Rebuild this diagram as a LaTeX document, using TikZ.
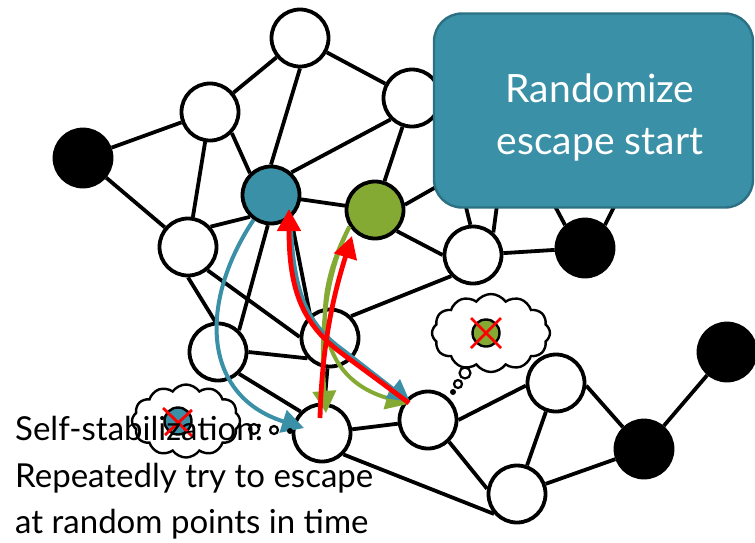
\documentclass[tikz,border=0pt]{standalone}
\usepackage{fontspec}
\setmainfont{Lato}
\usetikzlibrary{arrows.meta,shapes.symbols,calc}
\definecolor{tealc}{RGB}{58,144,166}
\definecolor{tealdark}{RGB}{44,112,131}
\definecolor{greenc}{RGB}{132,170,52}
\definecolor{redc}{RGB}{255,0,0}
\begin{document}
\begin{tikzpicture}[x=1pt,y=-1pt,
  vertex/.style={circle,draw=black,line width=3.8pt,minimum size=57pt,inner sep=0pt,fill=white},
  blackv/.style={vertex,fill=black},
  tealv/.style={vertex,fill=tealc},
  greenv/.style={vertex,fill=greenc},
  edge/.style={line width=3.8pt,draw=black},
  headtip/.style={-{Triangle[length=22pt,width=23pt]}},
  arrteal/.style={headtip,line width=4pt,draw=tealc},
  arrgreen/.style={headtip,line width=4pt,draw=greenc},
  arrred/.style={headtip,line width=4.8pt,draw=redc},
  thought/.style={cloud,draw=black,fill=white,line width=2.4pt,cloud puffs=12,cloud puff arc=110,inner sep=0pt},
  mini/.style={circle,draw=black,line width=2.4pt,minimum size=27pt,inner sep=0pt},
  crossline/.style={draw=redc,line width=2.8pt},
  bubble/.style={circle,draw=black,fill=white,line width=2.2pt,inner sep=0pt},
  dotb/.style={circle,fill=black,inner sep=0pt},
  say/.style={anchor=base west,inner sep=0pt,font=\fontsize{33}{40}\selectfont},
]
\useasboundingbox (0,0) rectangle (755,542);

% vertices of the network
\node[vertex]  (T)     at (300,38)  {};
\node[vertex]  (A)     at (210,112) {};
\node[blackv]  (B1)    at (83,158)  {};
\node[vertex]  (D)     at (412,98)  {};
\node[tealv]   (teal)  at (271,195) {};
\node[greenv]  (green) at (375,210) {};
\node[vertex]  (C)     at (188,247) {};
\node[vertex]  (E)     at (473,255) {};
\node[blackv]  (B2)    at (585,248) {};
\node[vertex]  (F)     at (218,352) {};
\node[vertex]  (G)     at (330,338) {};
\node[vertex]  (H)     at (322,433) {};
\node[vertex]  (I)     at (428,420) {};
\node[vertex]  (J)     at (556,383) {};
\node[vertex]  (K)     at (517,494) {};
\node[blackv]  (B3)    at (644,449) {};
\node[blackv]  (B4)    at (727,352) {};

% loose ends that run on under the callout box
\coordinate (e1)  at (463,195);
\coordinate (e2)  at (499,190);
\coordinate (b2a) at (549,195);
\coordinate (b2b) at (620,195);
\coordinate (g1)  at (450,179);

% links
\draw[edge] (T) -- (A);
\draw[edge] (T.-90) -- (teal.90);
\draw[edge] (T) -- (D);
\draw[edge] (A) -- (B1);
\draw[edge] (A) -- (C);
\draw[edge] (A.-44) -- (teal.134);
\draw[edge] (B1) -- (C);
\draw[edge] (teal.48) -- (D.225);
\draw[edge] (teal) -- (green);
\draw[edge] (C.42) -- (teal.226);
\draw[edge] (D) -- (green);
\draw[edge] (teal.-96) -- (F.46);
\draw[edge] (teal.-49) -- (G.131);
\draw[edge] (C.-90) -- (F.95);
\draw[edge] (C.-50) -- (G.178);
\draw[edge] (F.0) -- (G.222);
\draw[edge] (F.-46) -- (H.135);
\draw[edge] (G) -- (H);
\draw[edge] (G.46) -- (E.224);
\draw[edge] (green.-44) -- (E.180);
\draw[edge] (E) -- (B2);
\draw[edge] (E.95) -- (e1);
\draw[edge] (E.48) -- (e2);
\draw[edge] (B2.131) -- (b2a);
\draw[edge] (B2.49) -- (b2b);
\draw[edge] (green.10) -- (g1);
\draw[edge] (H) -- (I);
\draw[edge] (H.-45) -- (K.221);
\draw[edge] (I.-46) -- (K.170);
\draw[edge] (I.0) -- (J.185);
\draw[edge] (J) -- (K);
\draw[edge] (J.-5) -- (B3.134);
\draw[edge] (K) -- (B3);
\draw[edge] (B3) -- (B4);

% callout box
\node[draw=tealdark,fill=tealc,line width=2.4pt,rounded corners=28pt,
      minimum width=319pt,minimum height=194pt] (box) at (593.5,110.5) {};
\node[text=white,align=center,font=\fontsize{39}{52}\selectfont] (boxtxt) at (600,117)
  {Randomize\\escape start};

% escape attempts
\draw[arrgreen] (green.213) .. controls (318,290) and (322,360) .. ($(H)+(4,-20)$);
\draw[arrgreen] (green.213) .. controls (308,305) and (318,378) .. ($(I)+(-20,-16)$);
\draw[arrteal] (teal.-125) .. controls (200,300) and (200,395) .. ($(H)+(-18,-5)$);
\draw[arrteal] (teal.-50) .. controls (293,288) and (304,322) .. (343,350) -- ($(I)+(-18,-18)$);
\draw[arrred] ($(I)+(-19,-17)$) -- (340,352) .. controls (300,322) and (289,285) .. ($(teal)+(18,14)$);
\draw[arrred] ($(H)+(-2,-15)$) .. controls (322,340) and (335,290) .. ($(green)+(-23,26)$);

% thought clouds
\node[thought,minimum width=118pt,minimum height=78pt] (cloudR) at (491,333) {};
\node[mini,fill=greenc] (mR) at (486,333) {};
\draw[crossline] ($(mR)+(-15,-15)$) -- ($(mR)+(15,15)$);
\draw[crossline] ($(mR)+(15,-15)$) -- ($(mR)+(-15,15)$);
\node[bubble,minimum size=11pt] (r1) at (465,373) {};
\node[bubble,minimum size=8pt]  (r2) at (458,384) {};
\node[dotb,minimum size=6pt]    (r3) at (453,392) {};

\node[thought,minimum width=108pt,minimum height=73pt] (cloudL) at (186,421) {};
\node[mini,fill=tealc] (mL) at (178,421) {};
\draw[crossline] ($(mL)+(-15,-13)$) -- ($(mL)+(15,16)$);
\draw[crossline] ($(mL)+(14,-11)$) -- ($(mL)+(-13,14)$);
\node[bubble,minimum size=10pt] (l1) at (254,429) {};
\node[bubble,minimum size=8pt]  (l2) at (274,430) {};
\node[dotb,minimum size=6pt]    (l3) at (290,431) {};

% caption
\node[say] (s1) at (15,440) {Self-stabilization:};
\node[say] (s2) at (15,487) {Repeatedly try to escape};
\node[say] (s3) at (15,533) {at random points in time};
\end{tikzpicture}
\end{document}
